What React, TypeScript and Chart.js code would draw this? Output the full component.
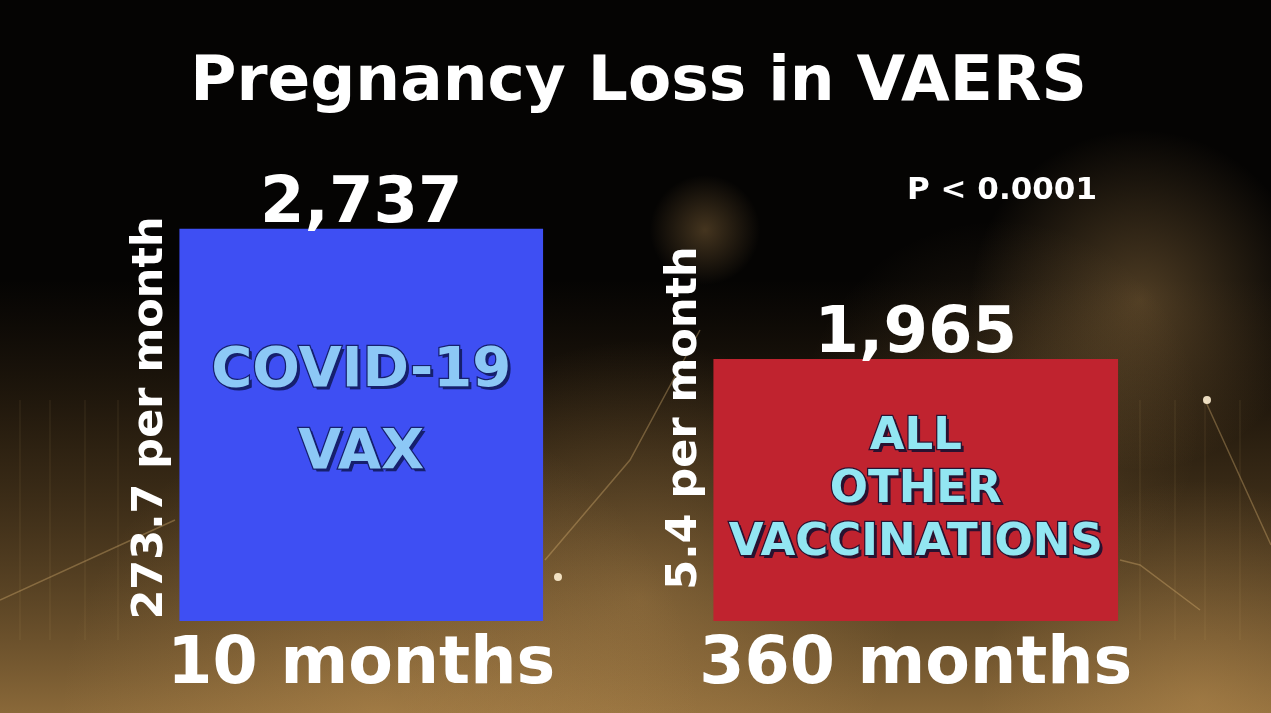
// App.tsx
import { useEffect, useRef } from "react";
import { Chart, registerables, Plugin } from "chart.js";

Chart.register(...registerables);

// data
const periods = ["10 months", "360 months"];
const reports = [2737, 1965];
const perMonth = ["273.7 per month", "5.4 per month"];
const barLabels = [
  ["COVID-19", "VAX"],
  ["ALL", "OTHER", "VACCINATIONS"],
];
const pValue = "P < 0.0001";
const title = "Pregnancy Loss in VAERS";

const FONT = "'DejaVu Sans', 'Liberation Sans', sans-serif";

// styles per bar (kept apart from the data)
const barColors = ["#3e4ff3", "#c0232f"];
const barWidths = [363, 404];
const innerText = [
  { size: 56, gap: 82, shift: -13, fill: "#8cc8f6", edge: "#16206e" },
  { size: 45, gap: 53, shift: 0, fill: "#92e6f2", edge: "#2a1230" },
];

const backdrop: Plugin<"bar"> = {
  id: "backdrop",
  beforeDraw(chart) {
    const { ctx, width, height } = chart;
    ctx.save();
    ctx.fillStyle = "#050403";
    ctx.fillRect(0, 0, width, height);

    const lin = ctx.createLinearGradient(0, 280, 0, height);
    lin.addColorStop(0, "rgba(60,42,20,0)");
    lin.addColorStop(0.4, "rgba(75,55,28,0.6)");
    lin.addColorStop(1, "rgba(145,110,60,0.95)");
    ctx.fillStyle = lin;
    ctx.fillRect(0, 280, width, height - 280);

    const glow = (x: number, y: number, r: number, a: number) => {
      const g = ctx.createRadialGradient(x, y, 0, x, y, r);
      g.addColorStop(0, `rgba(215,165,95,${a})`);
      g.addColorStop(1, "rgba(215,165,95,0)");
      ctx.fillStyle = g;
      ctx.fillRect(x - r, y - r, r * 2, r * 2);
    };
    glow(1140, 300, 170, 0.35);
    glow(705, 230, 55, 0.3);
    glow(640, 600, 260, 0.3);
    glow(1000, 420, 200, 0.18);
    glow(380, 720, 320, 0.3);
    glow(1200, 700, 220, 0.3);

    // faint decorative lines
    ctx.strokeStyle = "rgba(225,185,120,0.35)";
    ctx.lineWidth = 1.5;
    ctx.beginPath();
    ctx.moveTo(0, 600);
    ctx.lineTo(175, 520);
    ctx.moveTo(545, 560);
    ctx.lineTo(630, 460);
    ctx.lineTo(700, 330);
    ctx.moveTo(1205, 400);
    ctx.lineTo(1271, 545);
    ctx.moveTo(1120, 560);
    ctx.lineTo(1140, 565);
    ctx.lineTo(1200, 610);
    ctx.stroke();
    ctx.strokeStyle = "rgba(225,185,120,0.12)";
    ctx.lineWidth = 1;
    ctx.beginPath();
    for (const x of [20, 50, 85, 118, 1140, 1175, 1205, 1240]) {
      ctx.moveTo(x, 400);
      ctx.lineTo(x, 640);
    }
    ctx.stroke();
    ctx.fillStyle = "rgba(255,240,210,0.9)";
    ctx.beginPath();
    ctx.arc(1207, 400, 4, 0, Math.PI * 2);
    ctx.arc(558, 577, 4, 0, Math.PI * 2);
    ctx.fill();
    ctx.restore();
  },
};

const annotations: Plugin<"bar"> = {
  id: "annotations",
  afterDatasetsDraw(chart) {
    const { ctx, chartArea } = chart;
    ctx.save();
    chart.data.datasets.forEach((_, di) => {
      const meta = chart.getDatasetMeta(di);
      const bar = meta.data[di] as any;
      if (!bar) return;
      const { x, y, base, width } = bar.getProps(["x", "y", "base", "width"], true);
      const bottom = Math.min(base, chartArea.bottom);

      // value above the bar
      ctx.fillStyle = "#ffffff";
      ctx.font = `bold 64px ${FONT}`;
      ctx.textAlign = "center";
      ctx.textBaseline = "alphabetic";
      ctx.fillText(reports[di].toLocaleString("en-US"), x, y - 7);

      // rate along the left edge
      ctx.save();
      ctx.translate(x - width / 2 - 29, chartArea.bottom - 203);
      ctx.rotate(-Math.PI / 2);
      ctx.font = `bold 43px ${FONT}`;
      ctx.textBaseline = "middle";
      ctx.fillText(perMonth[di], 0, 0);
      ctx.restore();

      // label inside the bar
      const st = innerText[di];
      const lines = barLabels[di];
      const mid = (y + bottom) / 2 + st.shift;
      const first = mid - ((lines.length - 1) * st.gap) / 2;
      ctx.font = `bold ${st.size}px ${FONT}`;
      ctx.textBaseline = "middle";
      lines.forEach((line, li) => {
        const ly = first + li * st.gap;
        ctx.save();
        ctx.fillStyle = st.edge;
        ctx.fillText(line, x + 3, ly + 3);
        ctx.strokeStyle = st.edge;
        ctx.lineWidth = 2.5;
        ctx.strokeText(line, x, ly);
        ctx.fillStyle = st.fill;
        ctx.fillText(line, x, ly);
        ctx.restore();
      });
    });

    ctx.fillStyle = "#ffffff";
    ctx.font = `bold 31px ${FONT}`;
    ctx.textAlign = "right";
    ctx.textBaseline = "middle";
    ctx.fillText(pValue, chartArea.right - 96, chartArea.top + 6);
    ctx.restore();
  },
};

export default function App() {
  const canvasRef = useRef<HTMLCanvasElement | null>(null);

  useEffect(() => {
    if (!canvasRef.current) return;

    const chart = new Chart(canvasRef.current, {
      type: "bar",
      data: {
        labels: periods,
        datasets: reports.map((v, i) => ({
          label: barLabels[i].join(" "),
          data: periods.map((_, j) => (j === i ? v : null)),
          backgroundColor: barColors[i],
          barThickness: barWidths[i],
          grouped: false,
        })),
      },
      options: {
        responsive: true,
        maintainAspectRatio: false,
        animation: false,
        layout: { padding: { left: 84, right: 78, top: 0, bottom: 2 } },
        plugins: {
          legend: { display: false },
          tooltip: { enabled: false },
          title: {
            display: true,
            text: title,
            color: "#ffffff",
            font: { family: FONT, size: 63, weight: "bold", lineHeight: 1.2 },
            padding: { top: 46, bottom: 63 },
          },
        },
        scales: {
          x: {
            grid: { display: false, drawTicks: false },
            border: { display: false },
            ticks: {
              color: "#ffffff",
              padding: 6,
              font: { family: FONT, size: 65, weight: "bold", lineHeight: 1.2 },
            },
          },
          y: { display: false, min: 415, max: 3000 },
        },
      },
      plugins: [backdrop, annotations],
    });

    return () => {
      chart.destroy();
    };
  }, []);

  return (
    <div style={{ position: "fixed", inset: 0, background: "#000" }}>
      <canvas ref={canvasRef}></canvas>
    </div>
  );
}
